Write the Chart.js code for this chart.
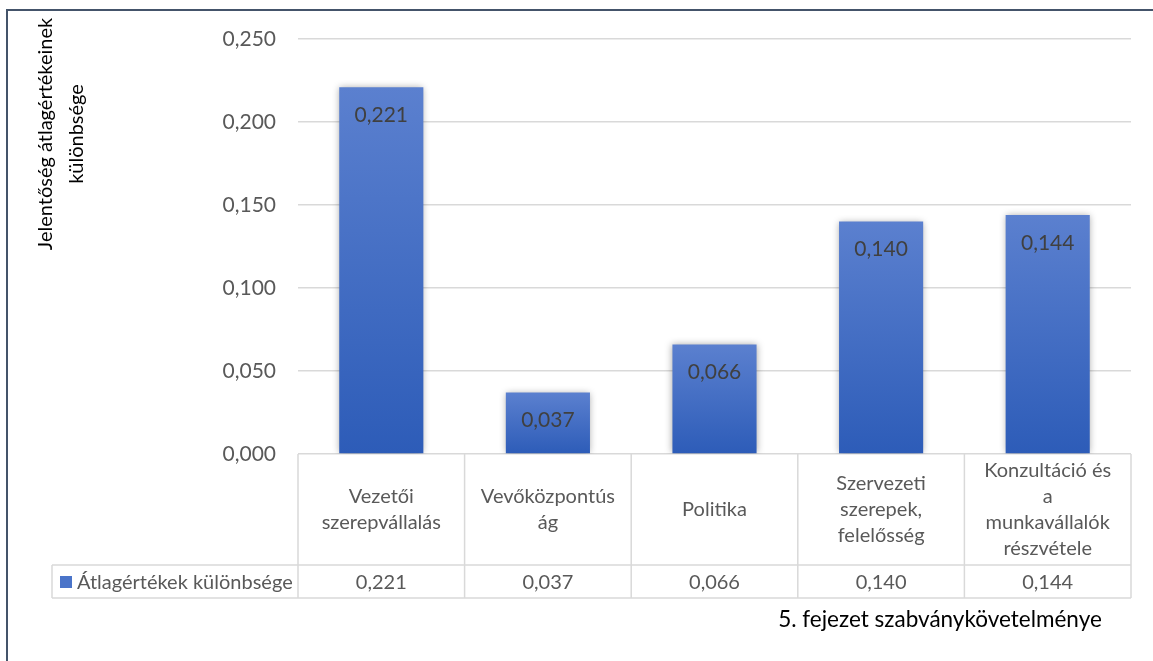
<!DOCTYPE html>
<html>
<head>
<meta charset="utf-8">
<script src="https://cdn.jsdelivr.net/npm/chart.js@4/dist/chart.umd.min.js"></script>
<style>
  body { margin: 0; background: #fff; }
  #wrap { width: 1153px; height: 661px; position: relative; }
</style>
</head>
<body>
<div id="wrap"><canvas id="grafico" width="1153" height="661"></canvas></div>
<script>
// Datos del gráfico
var kategoriak = [
    ['Vezetői', 'szerepvállalás'],
    ['Vevőközpontús', 'ág'],
    ['Politika'],
    ['Szervezeti', 'szerepek,', 'felelősség'],
    ['Konzultáció és', 'a', 'munkavállalók', 'részvétele']
];
var ertekek = [0.221, 0.037, 0.066, 0.140, 0.144];
var yTickek = [0, 0.05, 0.10, 0.15, 0.20, 0.25];
var sorozatNev = 'Átlagértékek különbsége';
var yCim = ['Jelentőség átlagértékeinek', 'különbsége'];
var xCim = '5. fejezet szabványkövetelménye';

var betu = 'Lato, Carlito, Calibri, sans-serif';
var racsSzin = '#d9d9d9';

function formaz(v) {
    return v.toFixed(3).replace('.', ',');
}

// Plugin: keret, tengelycímek, adattábla, adatcímkék
var tablaPlugin = {
    id: 'tabla',
    beforeDraw: function(chart) {
        var ctx = chart.ctx;
        ctx.save();
        ctx.fillStyle = '#44546a';
        ctx.fillRect(6, 9, 1147, 2);
        ctx.fillRect(6, 9, 2, 652);
        ctx.restore();
    },
    beforeDatasetsDraw: function(chart) {
        var ctx = chart.ctx;
        ctx.save();
        ctx.shadowColor = 'rgba(0,0,0,0.35)';
        ctx.shadowBlur = 7;
    },
    afterDatasetsDraw: function(chart) {
        var ctx = chart.ctx;
        ctx.restore();

        var area = chart.chartArea;
        var x = chart.scales.x;
        var oszlop = area.width / kategoriak.length;
        var fejAlja = 565;
        var sorAlja = 598;
        var balSzel = 52;

        // Adatcímkék a sávokon belül
        var meta = chart.getDatasetMeta(0);
        ctx.save();
        ctx.font = '21px ' + betu;
        ctx.fillStyle = '#404040';
        ctx.textAlign = 'center';
        ctx.textBaseline = 'middle';
        meta.data.forEach(function(bar, i) {
            ctx.fillText(formaz(ertekek[i]), bar.x, bar.y + 28);
        });
        ctx.restore();

        // Táblázat vonalai
        ctx.save();
        ctx.strokeStyle = racsSzin;
        ctx.lineWidth = 1.5;
        ctx.beginPath();
        ctx.moveTo(balSzel, fejAlja); ctx.lineTo(area.right, fejAlja);
        ctx.moveTo(balSzel, sorAlja); ctx.lineTo(area.right, sorAlja);
        ctx.moveTo(balSzel, fejAlja); ctx.lineTo(balSzel, sorAlja);
        for (var i = 0; i <= kategoriak.length; i++) {
            var vx = area.left + i * oszlop;
            ctx.moveTo(vx, area.bottom); ctx.lineTo(vx, sorAlja);
        }
        ctx.stroke();
        ctx.restore();

        // Kategória feliratok és értékek
        ctx.save();
        ctx.font = '20px ' + betu;
        ctx.fillStyle = '#595959';
        ctx.textAlign = 'center';
        ctx.textBaseline = 'middle';
        var sorMagassag = 26;
        var kozep = (area.bottom + fejAlja) / 2;
        kategoriak.forEach(function(sorok, i) {
            var cx = x.getPixelForValue(i);
            var kezdo = kozep - (sorok.length - 1) * sorMagassag / 2;
            sorok.forEach(function(s, j) {
                ctx.fillText(s, cx, kezdo + j * sorMagassag);
            });
            ctx.fillText(formaz(ertekek[i]), cx, (fejAlja + sorAlja) / 2 + 1);
        });

        // Jelmagyarázat a táblázatban
        ctx.fillStyle = '#4a74c9';
        ctx.fillRect(60, 576, 12, 12);
        ctx.fillStyle = '#595959';
        ctx.textAlign = 'left';
        ctx.fillText(sorozatNev, 77, (fejAlja + sorAlja) / 2 + 1);
        ctx.restore();

        // Tengelycímek
        ctx.save();
        ctx.fillStyle = '#000000';
        ctx.font = '22.5px ' + betu;
        ctx.textAlign = 'center';
        ctx.textBaseline = 'middle';
        ctx.fillText(xCim, 940, 620);
        ctx.font = '20px ' + betu;
        ctx.translate(0, 134);
        ctx.rotate(-Math.PI / 2);
        yCim.forEach(function(s, j) {
            ctx.fillText(s, 0, 46 + j * 31);
        });
        ctx.restore();
    }
};

var ctxGrafico = document.getElementById('grafico').getContext('2d');
var grafico = new Chart(ctxGrafico, {
    type: 'bar',
    data: {
        labels: kategoriak.map(function(k) { return k.join(' '); }),
        datasets: [{
            label: sorozatNev,
            data: ertekek,
            backgroundColor: function(c) {
                var chart = c.chart;
                if (!chart.chartArea) { return '#4472c4'; }
                var y = chart.scales.y;
                var teteje = y.getPixelForValue(c.raw);
                var alja = y.getPixelForValue(0);
                var g = chart.ctx.createLinearGradient(0, teteje, 0, alja);
                g.addColorStop(0, '#5b80cf');
                g.addColorStop(1, '#2d5cb8');
                return g;
            },
            borderWidth: 0,
            barPercentage: 0.505,
            categoryPercentage: 1
        }]
    },
    options: {
        responsive: false,
        animation: false,
        layout: { padding: { left: 0, right: 22, top: 39, bottom: 207 } },
        plugins: {
            legend: { display: false },
            tooltip: { enabled: false }
        },
        scales: {
            x: { display: false },
            y: {
                min: yTickek[0],
                max: yTickek[yTickek.length - 1],
                afterFit: function(scale) { scale.width = 298; },
                afterBuildTicks: function(scale) {
                    scale.ticks = yTickek.map(function(v) { return { value: v }; });
                },
                ticks: {
                    padding: 22,
                    color: '#595959',
                    font: { family: betu, size: 21 },
                    callback: function(v) { return formaz(v); }
                },
                grid: { color: racsSzin, lineWidth: 1.5, drawTicks: false },
                border: { display: false }
            }
        }
    },
    plugins: [tablaPlugin]
});
</script>
</body>
</html>
